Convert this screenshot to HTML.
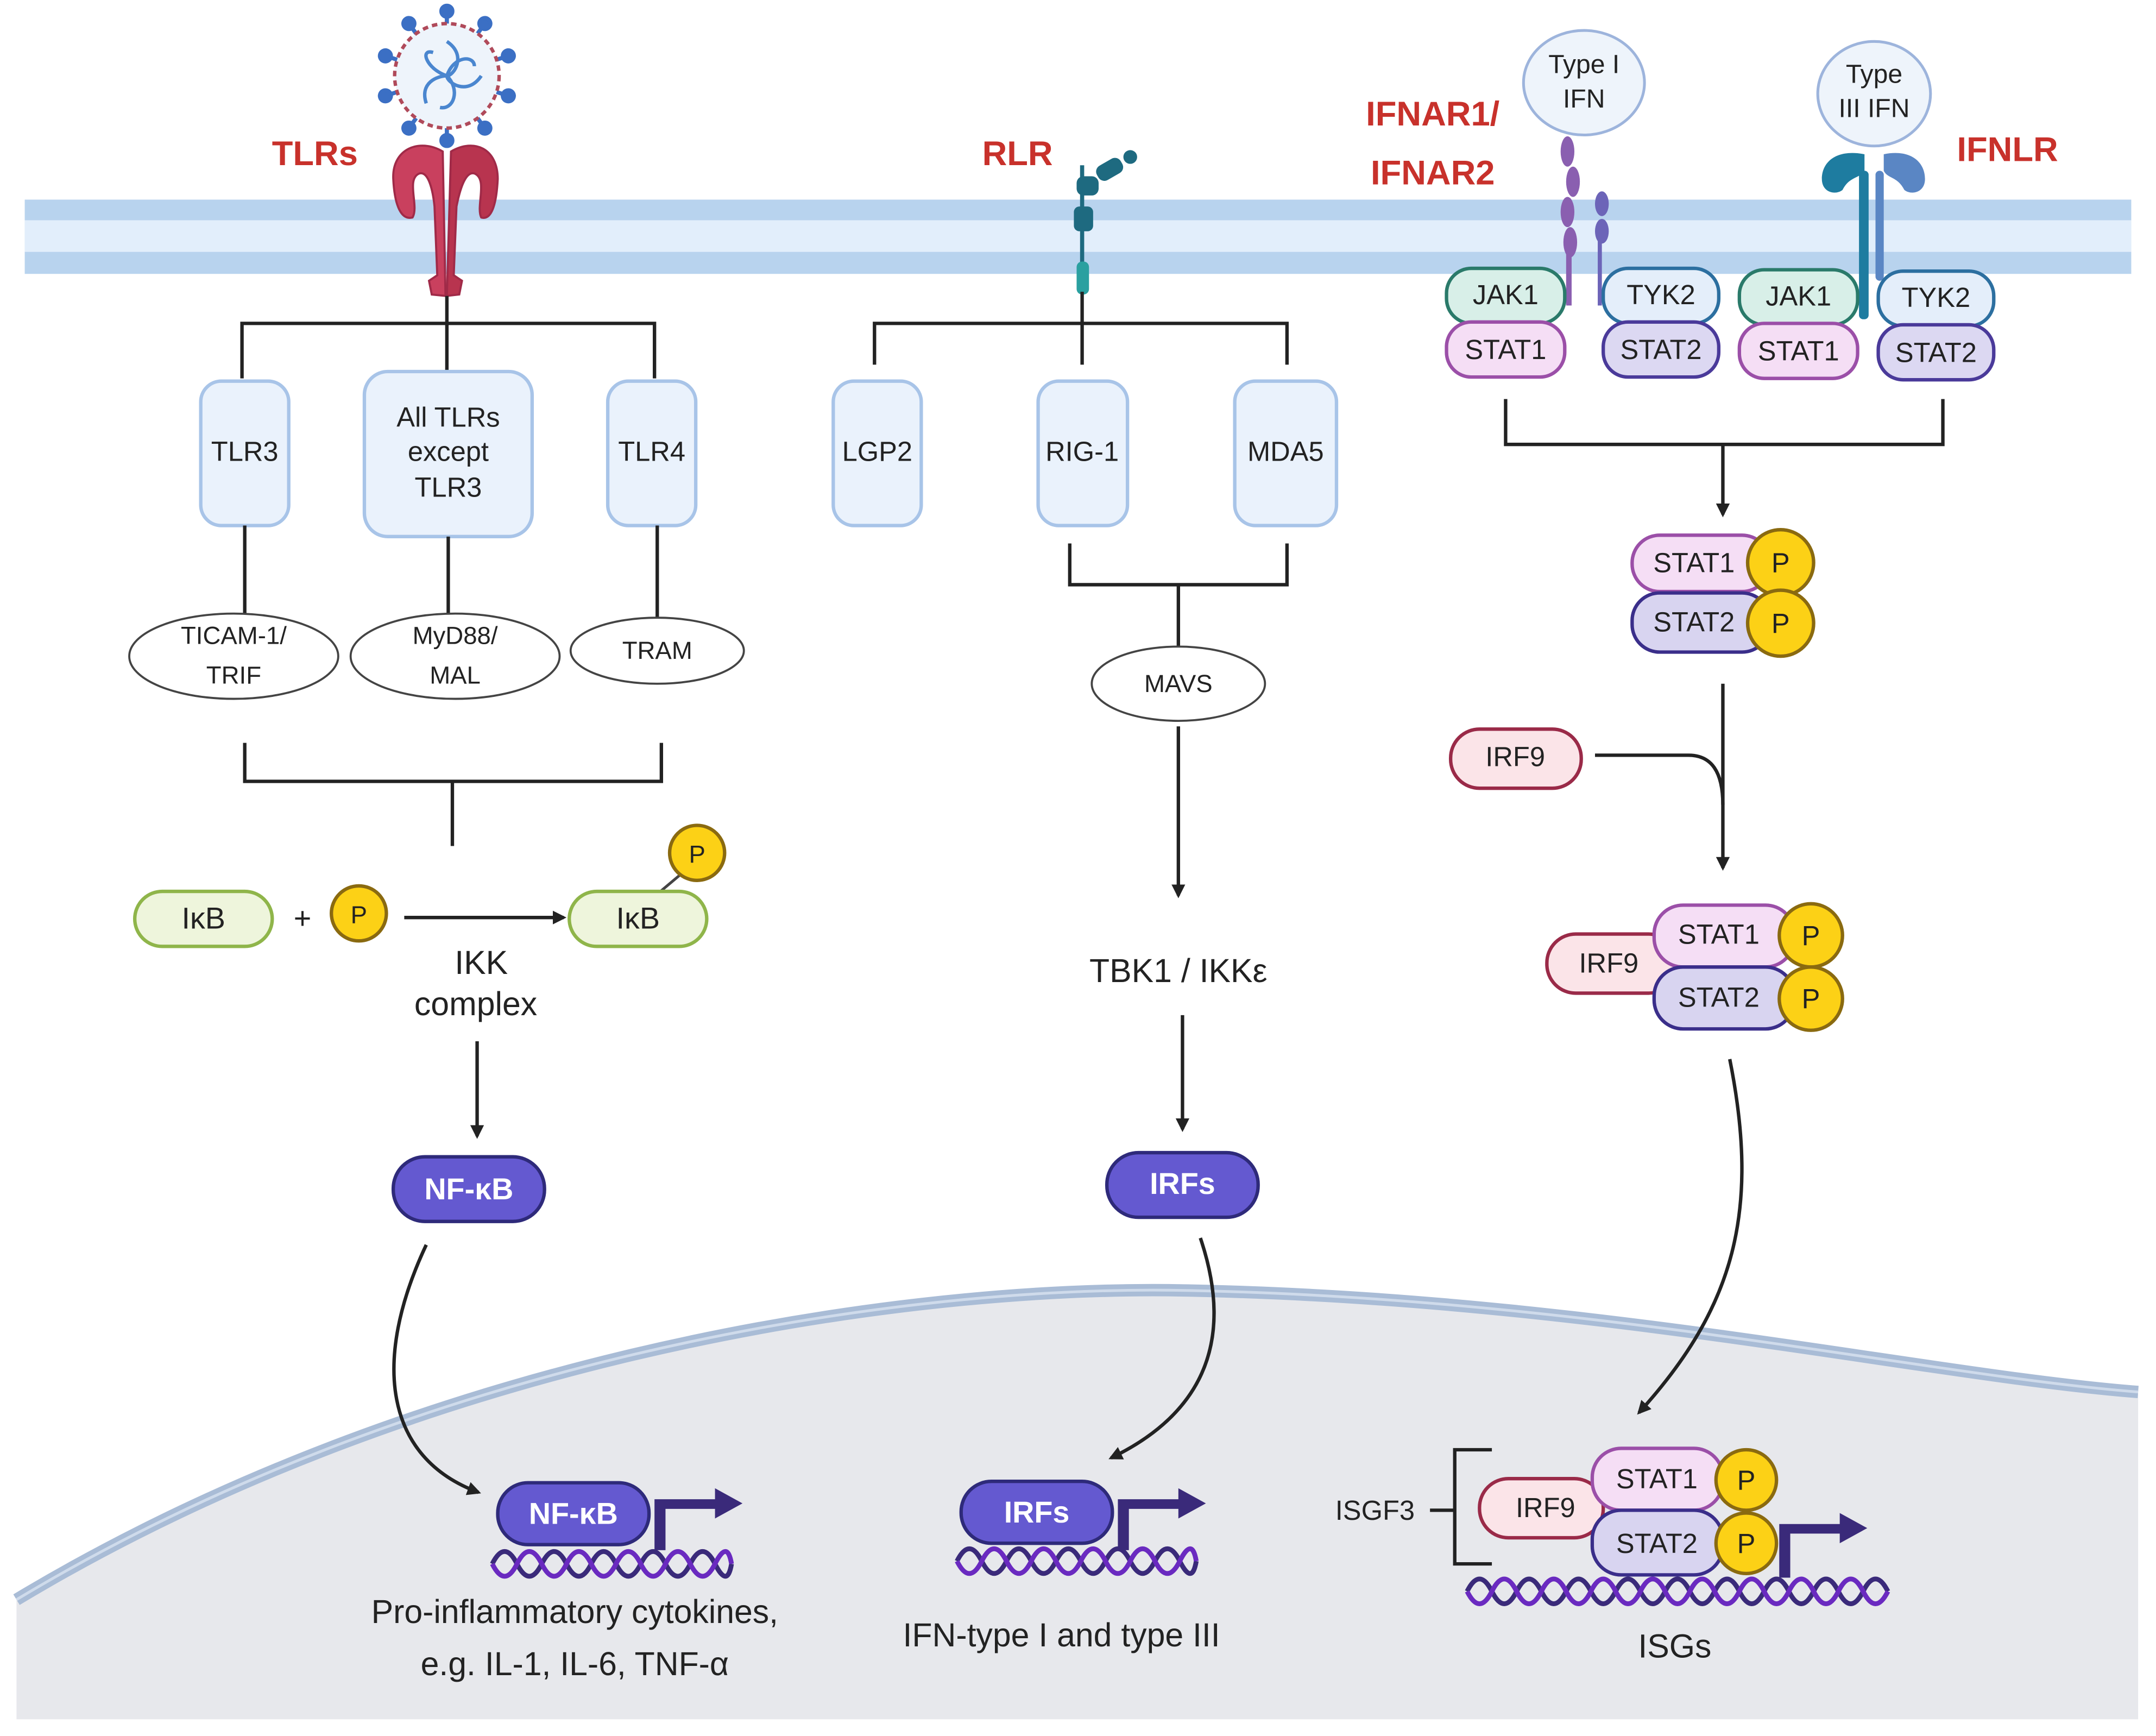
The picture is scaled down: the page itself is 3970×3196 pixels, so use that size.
<!DOCTYPE html>
<html><head><meta charset="utf-8"><style>
html,body{margin:0;padding:0;background:#fff}
svg{display:block}
text{font-family:"Liberation Sans",sans-serif;fill:#222}
.r{fill:#c8312b;font-weight:bold;font-size:25px}
.b{fill:#eaf2fc;stroke:#a8c4e8;stroke-width:2.5}
.l{stroke:#222;stroke-width:2.5;fill:none}
.p{fill:#fcd116;stroke:#8a6a10;stroke-width:2.5}
.w{fill:#fff;font-weight:bold;font-size:22px}
</style></head><body>
<svg width="3970" height="3196" viewBox="0 0 1568 1262" xmlns="http://www.w3.org/2000/svg">
<defs><marker id="a" markerWidth="10" markerHeight="10" refX="8" refY="5" orient="auto" markerUnits="userSpaceOnUse"><path d="M0,0 L10,5 L0,10 z" fill="#222"/></marker></defs>
<rect width="1568" height="1262" fill="#fff"/>
<path d="M12,1163 C300,990 640,936 850,938 C1150,942 1400,1000 1555,1012 L1555,1250 L12,1250 Z" fill="#e7e8ec"/>
<path d="M12,1163 C300,990 640,936 850,938 C1150,942 1400,1000 1555,1012" fill="none" stroke="#a9bcd6" stroke-width="9"/>
<path d="M12,1163 C300,990 640,936 850,938 C1150,942 1400,1000 1555,1012" fill="none" stroke="#cfdbeb" stroke-width="2"/>
<rect x="18" y="145" width="1532" height="54" fill="#b8d3ee"/>
<rect x="18" y="160" width="1532" height="23" fill="#e2eefb"/>
<g stroke="#3b6fc4" stroke-width="3" fill="#3b6fc4">
<g id="sp"><line x1="325" y1="17" x2="325" y2="5"/><circle cx="325" cy="8" r="4"/></g>
<use href="#sp" transform="rotate(36 325 55)"/><use href="#sp" transform="rotate(72 325 55)"/><use href="#sp" transform="rotate(108 325 55)"/><use href="#sp" transform="rotate(144 325 55)"/><use href="#sp" transform="rotate(180 325 55)"/><use href="#sp" transform="rotate(216 325 55)"/><use href="#sp" transform="rotate(252 325 55)"/><use href="#sp" transform="rotate(288 325 55)"/><use href="#sp" transform="rotate(324 325 55)"/>
</g>
<circle cx="325" cy="55" r="38" fill="#eef4fb" stroke="#b04a5a" stroke-width="2.5" stroke-dasharray="4 3"/>
<g fill="none" stroke="#4a86cf" stroke-width="2.5"><path d="M325,30 C340,40 330,55 325,55 C310,50 305,35 315,38"/><path d="M350,55 C340,70 325,60 325,55 C330,40 345,40 345,48"/><path d="M310,75 C305,60 318,55 325,55 C335,65 330,80 320,78"/></g>
<g fill="#c9405e" stroke="#a02a48" stroke-width="1.5">
<path d="M322,110 C305,100 285,108 286,130 C287,150 292,160 300,158 C305,150 295,130 305,126 C312,124 315,140 316,150 L318,200 L312,204 L314,214 L324,215 Z"/>
<path d="M328,110 C345,100 362,108 362,130 C361,150 357,160 350,158 C346,150 355,130 345,126 C338,124 334,140 332,150 L330,200 L336,204 L334,214 L325,215 Z" fill="#b8344f"/>
</g>
<text x="229" y="120" class="r" text-anchor="middle">TLRs</text>
<text x="740" y="120" class="r" text-anchor="middle">RLR</text>
<text x="1042" y="91" class="r" text-anchor="middle">IFNAR1/</text>
<text x="1042" y="134" class="r" text-anchor="middle">IFNAR2</text>
<text x="1460" y="117" class="r" text-anchor="middle">IFNLR</text>
<g fill="#1e6a80"><line x1="787" y1="120" x2="787" y2="212" stroke="#1e6a80" stroke-width="3"/>
<circle cx="822" cy="114" r="5"/><rect x="797" y="117" width="20" height="12" rx="5" transform="rotate(-30 807 123)"/><rect x="783" y="128" width="16" height="14" rx="5"/><rect x="781" y="150" width="14" height="18" rx="4"/><rect x="783" y="190" width="9" height="24" rx="4" fill="#2aa0a0"/></g>
<path class="l" d="M325,215 V235 M176,275 V235 H476 V275 M325,235 V270"/>
<rect class="b" x="146" y="277" width="64" height="105" rx="15"/><text x="178" y="335" font-size="20" text-anchor="middle">TLR3</text>
<rect class="b" x="265" y="270" width="122" height="120" rx="17"/><text x="326" y="310" font-size="20" text-anchor="middle">All TLRs</text><text x="326" y="335" font-size="20" text-anchor="middle">except</text><text x="326" y="361" font-size="20" text-anchor="middle">TLR3</text>
<rect class="b" x="442" y="277" width="64" height="105" rx="15"/><text x="474" y="335" font-size="20" text-anchor="middle">TLR4</text>
<path class="l" d="M178,382 V447 M326,390 V447 M478,382 V450"/>
<ellipse cx="170" cy="477" rx="76" ry="31" fill="#fff" stroke="#444" stroke-width="1.5"/><text x="170" y="468" font-size="18" text-anchor="middle">TICAM-1/</text><text x="170" y="497" font-size="18" text-anchor="middle">TRIF</text>
<ellipse cx="331" cy="477" rx="76" ry="31" fill="#fff" stroke="#444" stroke-width="1.5"/><text x="331" y="468" font-size="18" text-anchor="middle">MyD88/</text><text x="331" y="497" font-size="18" text-anchor="middle">MAL</text>
<ellipse cx="478" cy="473" rx="63" ry="24" fill="#fff" stroke="#444" stroke-width="1.5"/><text x="478" y="479" font-size="18" text-anchor="middle">TRAM</text>
<path class="l" d="M178,540 V568 H481 V540 M329,568 V615"/>
<rect x="98" y="648" width="100" height="40" rx="20" fill="#eef5dc" stroke="#8fb54a" stroke-width="2.5"/><text x="148" y="675" font-size="22" text-anchor="middle">IκB</text>
<text x="220" y="675" font-size="22" text-anchor="middle">+</text>
<circle class="p" cx="261" cy="664" r="20"/><text x="261" y="671" font-size="18" text-anchor="middle">P</text>
<line class="l" x1="294" y1="667" x2="410" y2="667" marker-end="url(#a)"/>
<line x1="478" y1="650" x2="497" y2="634" stroke="#444" stroke-width="2"/>
<rect x="414" y="648" width="100" height="40" rx="20" fill="#eef5dc" stroke="#8fb54a" stroke-width="2.5"/><text x="464" y="675" font-size="22" text-anchor="middle">IκB</text>
<circle class="p" cx="507" cy="620" r="20"/><text x="507" y="627" font-size="18" text-anchor="middle">P</text>
<text x="350" y="708" font-size="24" text-anchor="middle">IKK</text><text x="346" y="738" font-size="24" text-anchor="middle">complex</text>
<line class="l" x1="347" y1="757" x2="347" y2="826" marker-end="url(#a)"/>
<rect x="286" y="841" width="110" height="47" rx="23" fill="#6459d0" stroke="#2e2a7a" stroke-width="2.5"/><text x="341" y="872" class="w" text-anchor="middle">NF-κB</text>
<path class="l" d="M310,905 C270,990 280,1060 348,1085" marker-end="url(#a)"/>
<path class="l" d="M787,212 V235 M636,265 V235 H936 V265 M787,235 V265"/>
<rect class="b" x="606" y="277" width="64" height="105" rx="15"/><text x="638" y="335" font-size="20" text-anchor="middle">LGP2</text>
<rect class="b" x="755" y="277" width="65" height="105" rx="15"/><text x="787" y="335" font-size="20" text-anchor="middle">RIG-1</text>
<rect class="b" x="898" y="277" width="74" height="105" rx="15"/><text x="935" y="335" font-size="20" text-anchor="middle">MDA5</text>
<path class="l" d="M778,395 V425 H936 V395 M857,425 V470"/>
<ellipse cx="857" cy="497" rx="63" ry="27" fill="#fff" stroke="#444" stroke-width="1.5"/><text x="857" y="503" font-size="18" text-anchor="middle">MAVS</text>
<line class="l" x1="857" y1="528" x2="857" y2="651" marker-end="url(#a)"/>
<text x="857" y="714" font-size="24" text-anchor="middle">TBK1 / IKKε</text>
<line class="l" x1="860" y1="738" x2="860" y2="821" marker-end="url(#a)"/>
<rect x="805" y="838" width="110" height="47" rx="23" fill="#6459d0" stroke="#2e2a7a" stroke-width="2.5"/><text x="860" y="868" class="w" text-anchor="middle">IRFs</text>
<path class="l" d="M873,900 C900,980 870,1030 808,1060" marker-end="url(#a)"/>
<ellipse cx="1152" cy="60" rx="44" ry="38" fill="#eef4fb" stroke="#9db4dc" stroke-width="2"/><text x="1152" y="53" font-size="19" text-anchor="middle">Type I</text><text x="1152" y="78" font-size="19" text-anchor="middle">IFN</text>
<ellipse cx="1363" cy="68" rx="41" ry="38" fill="#eef4fb" stroke="#9db4dc" stroke-width="2"/><text x="1363" y="60" font-size="19" text-anchor="middle">Type</text><text x="1363" y="85" font-size="19" text-anchor="middle">III IFN</text>
<g fill="#8a5fb0"><ellipse cx="1140" cy="110" rx="5" ry="11"/><ellipse cx="1144" cy="132" rx="5" ry="11"/><ellipse cx="1140" cy="154" rx="5" ry="11"/><ellipse cx="1142" cy="176" rx="5" ry="11"/><rect x="1139" y="180" width="4" height="42"/>
<ellipse cx="1165" cy="148" rx="5" ry="9" fill="#6c64b8"/><ellipse cx="1165" cy="168" rx="5" ry="9" fill="#6c64b8"/><rect x="1162" y="170" width="3" height="52" fill="#6c64b8"/></g>
<path d="M1356,112 C1335,108 1325,118 1325,130 C1325,140 1335,142 1340,138 C1345,128 1352,130 1356,124 Z" fill="#1e7ca0"/>
<path d="M1370,112 C1390,108 1400,118 1400,130 C1400,140 1390,142 1385,138 C1380,128 1373,130 1370,124 Z" fill="#5a86c4"/>
<rect x="1352" y="124" width="7" height="108" rx="3" fill="#1e7ca0"/><rect x="1364" y="124" width="6" height="80" rx="3" fill="#5a86c4"/>
<g font-size="20" text-anchor="middle">
<rect x="1052" y="195" width="86" height="40" rx="18" fill="#d8efe8" stroke="#2a7a6a" stroke-width="2.5"/><text x="1095" y="221">JAK1</text>
<rect x="1052" y="234" width="86" height="40" rx="18" fill="#f5def5" stroke="#9b4fa8" stroke-width="2.5"/><text x="1095" y="261">STAT1</text>
<rect x="1166" y="195" width="84" height="40" rx="18" fill="#e4eefa" stroke="#2c6fa0" stroke-width="2.5"/><text x="1208" y="221">TYK2</text>
<rect x="1166" y="234" width="84" height="40" rx="18" fill="#dcd8f2" stroke="#4a3a9a" stroke-width="2.5"/><text x="1208" y="261">STAT2</text>
<rect x="1265" y="196" width="86" height="40" rx="18" fill="#d8efe8" stroke="#2a7a6a" stroke-width="2.5"/><text x="1308" y="222">JAK1</text>
<rect x="1265" y="235" width="86" height="40" rx="18" fill="#f5def5" stroke="#9b4fa8" stroke-width="2.5"/><text x="1308" y="262">STAT1</text>
<rect x="1366" y="197" width="84" height="40" rx="18" fill="#e4eefa" stroke="#2c6fa0" stroke-width="2.5"/><text x="1408" y="223">TYK2</text>
<rect x="1366" y="236" width="84" height="40" rx="18" fill="#dcd8f2" stroke="#4a3a9a" stroke-width="2.5"/><text x="1408" y="263">STAT2</text>
</g>
<path class="l" d="M1095,290 V323 H1413 V290"/>
<line class="l" x1="1253" y1="323" x2="1253" y2="374" marker-end="url(#a)"/>
<g font-size="20" text-anchor="middle">
<rect x="1187" y="389" width="100" height="41" rx="20" fill="#f5def5" stroke="#9b4fa8" stroke-width="2.5"/><text x="1232" y="416">STAT1</text>
<rect x="1187" y="431" width="100" height="43" rx="20" fill="#d8d4f0" stroke="#3a2e8a" stroke-width="2.5"/><text x="1232" y="459">STAT2</text>
<circle class="p" cx="1295" cy="409" r="24"/><text x="1295" y="416">P</text>
<circle class="p" cx="1295" cy="453" r="24"/><text x="1295" y="460">P</text>
</g>
<line class="l" x1="1253" y1="497" x2="1253" y2="631" marker-end="url(#a)"/>
<rect x="1055" y="530" width="95" height="43" rx="21" fill="#fbe4e8" stroke="#9a2a48" stroke-width="2.5"/><text x="1102" y="557" font-size="20" text-anchor="middle">IRF9</text>
<path class="l" d="M1160,549 H1228 Q1253,549 1253,585"/>
<g font-size="20" text-anchor="middle">
<rect x="1125" y="679" width="95" height="43" rx="21" fill="#fbe4e8" stroke="#9a2a48" stroke-width="2.5"/><text x="1170" y="707">IRF9</text>
<rect x="1203" y="658" width="102" height="45" rx="21" fill="#f5def5" stroke="#9b4fa8" stroke-width="2.5"/><text x="1250" y="686">STAT1</text>
<rect x="1203" y="703" width="102" height="45" rx="21" fill="#d8d4f0" stroke="#3a2e8a" stroke-width="2.5"/><text x="1250" y="732">STAT2</text>
<circle class="p" cx="1317" cy="680" r="23"/><text x="1317" y="687">P</text>
<circle class="p" cx="1317" cy="726" r="23"/><text x="1317" y="733">P</text>
</g>
<path class="l" d="M1258,770 C1280,880 1262,950 1192,1027" marker-end="url(#a)"/>
<g fill="none" stroke-width="3.5">
<path stroke="#3a2a7a" d="M358,1137 q9,-18 18,0 t18,0 t18,0 t18,0 t18,0 t18,0 t18,0 t18,0 t18,0 t12,0"/>
<path stroke="#6a2ac0" d="M358,1137 q9,18 18,0 t18,0 t18,0 t18,0 t18,0 t18,0 t18,0 t18,0 t18,0 t12,0"/>
<path stroke="#3a2a7a" d="M696,1135 q9,-18 18,0 t18,0 t18,0 t18,0 t18,0 t18,0 t18,0 t18,0 t18,0 t12,0"/>
<path stroke="#6a2ac0" d="M696,1135 q9,18 18,0 t18,0 t18,0 t18,0 t18,0 t18,0 t18,0 t18,0 t18,0 t12,0"/>
<path stroke="#3a2a7a" d="M1067,1157 q9,-18 18,0 t18,0 t18,0 t18,0 t18,0 t18,0 t18,0 t18,0 t18,0 t18,0 t18,0 t18,0 t18,0 t18,0 t18,0 t18,0 t18,0"/>
<path stroke="#6a2ac0" d="M1067,1157 q9,18 18,0 t18,0 t18,0 t18,0 t18,0 t18,0 t18,0 t18,0 t18,0 t18,0 t18,0 t18,0 t18,0 t18,0 t18,0 t18,0 t18,0"/>
</g>
<g fill="#3a2a7a">
<path d="M476,1127 V1090 H520 V1082 L540,1093 L520,1104 V1097 H484 V1127 Z"/>
<path d="M813,1127 V1090 H857 V1082 L877,1093 L857,1104 V1097 H821 V1127 Z"/>
<path d="M1294,1147 V1108 H1338 V1100 L1358,1111 L1338,1122 V1115 H1302 V1147 Z"/>
</g>
<rect x="362" y="1078" width="110" height="45" rx="22" fill="#6459d0" stroke="#2e2a7a" stroke-width="2.5"/><text x="417" y="1108" class="w" text-anchor="middle">NF-κB</text>
<rect x="699" y="1077" width="110" height="45" rx="22" fill="#6459d0" stroke="#2e2a7a" stroke-width="2.5"/><text x="754" y="1107" class="w" text-anchor="middle">IRFs</text>
<text x="418" y="1180" font-size="24" text-anchor="middle">Pro-inflammatory cytokines,</text>
<text x="418" y="1218" font-size="24" text-anchor="middle">e.g. IL-1, IL-6, TNF-α</text>
<text x="772" y="1197" font-size="24" text-anchor="middle">IFN-type I and type III</text>
<text x="1000" y="1105" font-size="20" text-anchor="middle">ISGF3</text>
<path class="l" d="M1040,1098 H1058 M1085,1054 H1058 V1137 H1085"/>
<g font-size="20" text-anchor="middle">
<rect x="1076" y="1075" width="90" height="43" rx="21" fill="#fbe4e8" stroke="#9a2a48" stroke-width="2.5"/><text x="1124" y="1103">IRF9</text>
<rect x="1158" y="1053" width="95" height="45" rx="21" fill="#f5def5" stroke="#9b4fa8" stroke-width="2.5"/><text x="1205" y="1082">STAT1</text>
<rect x="1158" y="1098" width="95" height="47" rx="21" fill="#d8d4f0" stroke="#3a2e8a" stroke-width="2.5"/><text x="1205" y="1129">STAT2</text>
<circle class="p" cx="1270" cy="1076" r="22"/><text x="1270" y="1083">P</text>
<circle class="p" cx="1270" cy="1122" r="22"/><text x="1270" y="1129">P</text>
</g>
<text x="1218" y="1205" font-size="24" text-anchor="middle">ISGs</text>
</svg>
</body></html>
